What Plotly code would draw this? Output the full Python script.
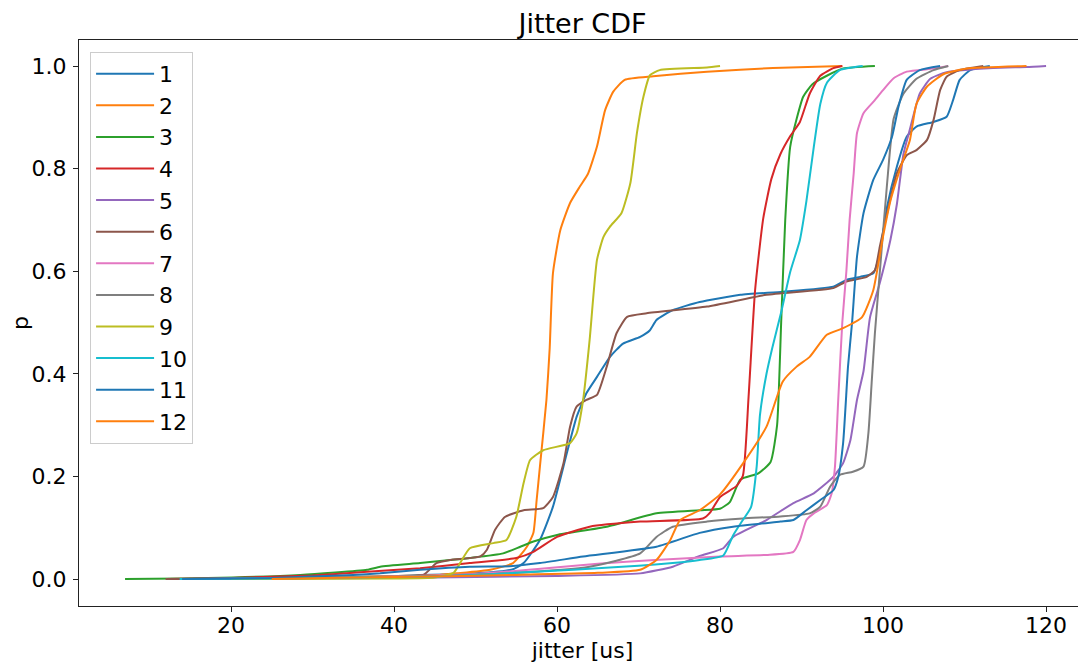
import plotly.graph_objects as go

# ---- data ----
labels = ["1", "2", "3", "4", "5", "6", "7", "8", "9", "10", "11", "12"]
colors = ["#1f77b4", "#ff7f0e", "#2ca02c", "#d62728", "#9467bd", "#8c564b",
          "#e377c2", "#7f7f7f", "#bcbd22", "#17becf", "#1f77b4", "#ff7f0e"]

x1 = [20, 30, 40, 50, 54.4, 55.9, 57.9, 59.5, 61.2, 62.4, 63.6, 64.9, 66.5, 68.1, 70.2, 71.4, 72.2, 74.2, 77.5, 82.5,
      87.7, 93.9, 95.5, 97.2, 98.8, 99.6, 100.5, 101.7, 102.9, 104.1, 106.2, 107.8, 108.6, 109.4, 110.7, 113.1]
y1 = [0, 0.002, 0.006, 0.011, 0.018, 0.031, 0.076, 0.141, 0.245, 0.316, 0.362, 0.394, 0.433, 0.459, 0.472, 0.485,
      0.505, 0.524, 0.54, 0.554, 0.56, 0.57, 0.583, 0.589, 0.596, 0.635, 0.726, 0.804, 0.862, 0.882, 0.891, 0.901,
      0.934, 0.973, 0.992, 1.0]

x2 = [25, 30, 35, 40, 45.6, 47.7, 51.8, 54.6, 56.3, 57.1, 57.5, 57.9, 58.7, 59.1, 59.5, 60.4, 61.6, 62.8, 63.8,
      64.9, 65.9, 66.9, 68.3, 71.8, 78.4, 86.5, 95]
y2 = [0, 0.002, 0.004, 0.006, 0.008, 0.011, 0.018, 0.031, 0.063, 0.09, 0.154, 0.219, 0.349, 0.45, 0.596, 0.68,
      0.733, 0.765, 0.79, 0.843, 0.914, 0.95, 0.973, 0.98, 0.989, 0.996, 1.0]

x3 = [7, 14, 20.3, 28.5, 36.7, 38.3, 43.2, 46.9, 49.3, 53.4, 55.5, 57.1, 60.0, 66.1, 72.2, 77.5, 80.0, 81.2, 82.5,
      84.7, 86.2, 87.0, 87.5, 88.0, 88.6, 89.4, 90.2, 91.3, 93.1, 95.1, 99]
y3 = [0, 0.001, 0.003, 0.008, 0.018, 0.024, 0.031, 0.037, 0.041, 0.05, 0.063, 0.073, 0.086, 0.102, 0.128, 0.134,
      0.137, 0.15, 0.194, 0.206, 0.228, 0.30, 0.50, 0.70, 0.842, 0.897, 0.94, 0.964, 0.981, 0.995, 1.0]

x4 = [12, 20, 30, 36.7, 43.2, 49.3, 55.0, 57.1, 60.0, 64.0, 70.2, 77.9, 78.8, 80.0, 82.0, 82.8, 83.5, 84.3, 85.3,
      86.3, 87.4, 88.6, 89.8, 91.0, 92.3, 93.9, 95]
y4 = [0, 0.002, 0.007, 0.014, 0.021, 0.031, 0.041, 0.053, 0.082, 0.102, 0.112, 0.118, 0.13, 0.16, 0.181, 0.201,
      0.355, 0.563, 0.703, 0.78, 0.828, 0.863, 0.891, 0.946, 0.981, 0.996, 1.0]

x5 = [17, 30, 45, 60, 70.2, 74.2, 77.5, 80.4, 81.6, 85.7, 89.0, 91.5, 93.9, 95.1, 96.0, 96.8, 97.6, 98.4, 99.6,
      100.9, 101.7, 102.5, 103.3, 104.5, 105.8, 107.8, 113.5, 117.6, 120]
y5 = [0, 0.001, 0.003, 0.006, 0.011, 0.024, 0.045, 0.06, 0.082, 0.115, 0.148, 0.167, 0.199, 0.226, 0.271, 0.349,
      0.405, 0.51, 0.577, 0.661, 0.731, 0.828, 0.877, 0.946, 0.975, 0.988, 0.996, 0.998, 1.0]

x6 = [12, 25, 35, 43.6, 45.2, 46.9, 50.6, 51.4, 52.4, 53.6, 55.9, 58.3, 59.5, 60.8, 61.6, 62.4, 63.6, 64.9, 66.1,
      67.3, 68.6, 71.0, 78.4, 85.7, 93.9, 95.5, 98.0, 99.0, 99.6, 100.5, 101.7, 102.9, 104.1, 105.4, 106.2, 107.0,
      107.8, 109.4, 112.3]
y6 = [0, 0.001, 0.004, 0.008, 0.031, 0.037, 0.044, 0.057, 0.096, 0.121, 0.134, 0.138, 0.160, 0.226, 0.297, 0.336,
      0.349, 0.359, 0.414, 0.479, 0.511, 0.518, 0.531, 0.554, 0.567, 0.58, 0.589, 0.602, 0.648, 0.713, 0.791, 0.826,
      0.836, 0.856, 0.895, 0.953, 0.979, 0.992, 1.0]

x7 = [18, 30, 40, 50, 58, 65, 72, 80, 85.7, 89.0, 89.8, 90.6, 91.5, 93.1, 93.7, 94.1, 94.5, 95.0, 95.5, 95.9,
      96.4, 96.8, 97.6, 98.8, 100.0, 101.3, 102.9, 106.2, 108]
y7 = [0, 0.002, 0.005, 0.01, 0.02, 0.03, 0.037, 0.044, 0.047, 0.053, 0.076, 0.115, 0.128, 0.144, 0.167, 0.219,
      0.349, 0.5, 0.6, 0.7, 0.791, 0.869, 0.908, 0.93, 0.953, 0.976, 0.989, 0.995, 1.0]

x8 = [15, 30, 45.6, 53.8, 64.0, 70.2, 72.2, 74.2, 78.4, 82.8, 87.4, 91.0, 92.3, 93.5, 94.7, 96.3, 97.6, 98.2, 98.6,
      99.0, 99.6, 100.5, 101.3, 102.5, 104.1, 106.2, 108]
y8 = [0, 0.002, 0.006, 0.011, 0.024, 0.05, 0.082, 0.102, 0.112, 0.118, 0.122, 0.128, 0.141, 0.18, 0.203, 0.209,
      0.219, 0.284, 0.382, 0.479, 0.598, 0.772, 0.897, 0.946, 0.975, 0.992, 1.0]

x9 = [20, 40, 45, 47.3, 48.1, 49.3, 52.2, 53.8, 55.0, 55.9, 56.7, 58.3, 61.6, 62.4, 63.2, 64.0, 64.9, 65.7, 66.5,
      67.9, 69.0, 69.8, 70.6, 71.4, 72.6, 78.4, 80]
y9 = [0, 0.001, 0.003, 0.012, 0.031, 0.06, 0.07, 0.076, 0.121, 0.187, 0.232, 0.251, 0.265, 0.284, 0.349, 0.466,
      0.622, 0.667, 0.687, 0.713, 0.772, 0.869, 0.94, 0.982, 0.992, 0.997, 1.0]

x10 = [13.7, 25, 35, 45.6, 55, 62, 70, 74.2, 77.5, 80.4, 81.6, 82.8, 83.8, 84.5, 84.9, 85.7, 86.4, 87.5, 88.6,
       89.8, 90.6, 91.5, 92.3, 93.1, 94.7, 97.5]
y10 = [0, 0.001, 0.003, 0.005, 0.012, 0.018, 0.026, 0.031, 0.037, 0.046, 0.085, 0.115, 0.14, 0.22, 0.32, 0.40,
       0.45, 0.52, 0.598, 0.661, 0.737, 0.842, 0.926, 0.967, 0.992, 1.0]

x11 = [14, 25, 35, 38.3, 43.2, 49.3, 54.2, 57.9, 63.2, 72.2, 77.5, 81.6, 87.4, 89.0, 90.6, 92.3, 93.9, 94.5, 95.1,
       95.7, 96.2, 96.8, 97.6, 98.8, 100.0, 101.1, 101.9, 102.9, 104.5, 107]
y11 = [0, 0.002, 0.008, 0.011, 0.018, 0.024, 0.025, 0.031, 0.044, 0.063, 0.09, 0.102, 0.112, 0.115, 0.134, 0.154,
       0.173, 0.199, 0.265, 0.414, 0.50, 0.628, 0.713, 0.778, 0.817, 0.862, 0.921, 0.973, 0.992, 1.0]

x12 = [25, 35, 45, 55, 65, 70.2, 72.2, 73.9, 75.1, 77.5, 80.0, 82.8, 85.7, 87.7, 89.4, 91.0, 93.1, 95.1, 97.4,
       98.8, 100.0, 100.9, 102.1, 103.3, 104.1, 105.4, 107.4, 110.3, 117.6]
y12 = [0, 0.003, 0.005, 0.008, 0.012, 0.018, 0.037, 0.076, 0.115, 0.134, 0.165, 0.225, 0.297, 0.385, 0.414, 0.433,
       0.476, 0.489, 0.51, 0.563, 0.668, 0.737, 0.8, 0.856, 0.926, 0.96, 0.984, 0.995, 1.0]

xs = [x1, x2, x3, x4, x5, x6, x7, x8, x9, x10, x11, x12]
ys = [y1, y2, y3, y4, y5, y6, y7, y8, y9, y10, y11, y12]

x_ticks = [20, 40, 60, 80, 100, 120]
y_ticks = [0.0, 0.2, 0.4, 0.6, 0.8, 1.0]

FONT = "DejaVu Sans"
FS = 22

fig = go.Figure()
for lab, col, xv, yv in zip(labels, colors, xs, ys):
    fig.add_trace(go.Scatter(x=xv, y=yv, mode="lines", name=lab,
                             line=dict(color=col, width=2, shape="spline", smoothing=0.5),
                             legendgroup=lab))

axis_common = dict(showline=True, linecolor="#222222", linewidth=1, mirror=True,
                   ticks="outside", ticklen=5, tickwidth=1, tickcolor="#222222",
                   showgrid=False, zeroline=False, automargin=False,
                   tickfont=dict(family=FONT, size=FS, color="black"))

# the page body has an 8px margin, so the figure is sized/offset to compensate
fig.update_layout(
    width=1078, height=660,
    paper_bgcolor="white", plot_bgcolor="white",
    margin=dict(l=71, r=0, t=32, b=62),
    title=dict(text="Jitter CDF", x=0.5, xref="paper", xanchor="center",
               y=1, yref="paper", yanchor="bottom", pad=dict(b=7), automargin=False,
               font=dict(family=FONT, size=27, color="black")),
    xaxis=dict(range=[1.35, 124.9], tickvals=x_ticks, ticktext=[str(v) for v in x_ticks],
               ticklabelstandoff=-5,
               title=dict(text="jitter [us]", standoff=2, font=dict(family=FONT, size=FS, color="black")),
               **axis_common),
    yaxis=dict(range=[-0.0526, 1.0507], tickvals=y_ticks, ticktext=[f"{v:.1f}" for v in y_ticks],
               ticklabelstandoff=2,
               title=dict(text="p", standoff=6, font=dict(family=FONT, size=FS, color="black")),
               **axis_common),
    legend=dict(x=0.011, y=0.979, xanchor="left", yanchor="top",
                bgcolor="rgba(255,255,255,0.8)", bordercolor="#cccccc", borderwidth=1,
                font=dict(family=FONT, size=FS, color="black"),
                tracegroupgap=0, itemwidth=58),
    showlegend=True,
)

fig.write_html("out.html")
